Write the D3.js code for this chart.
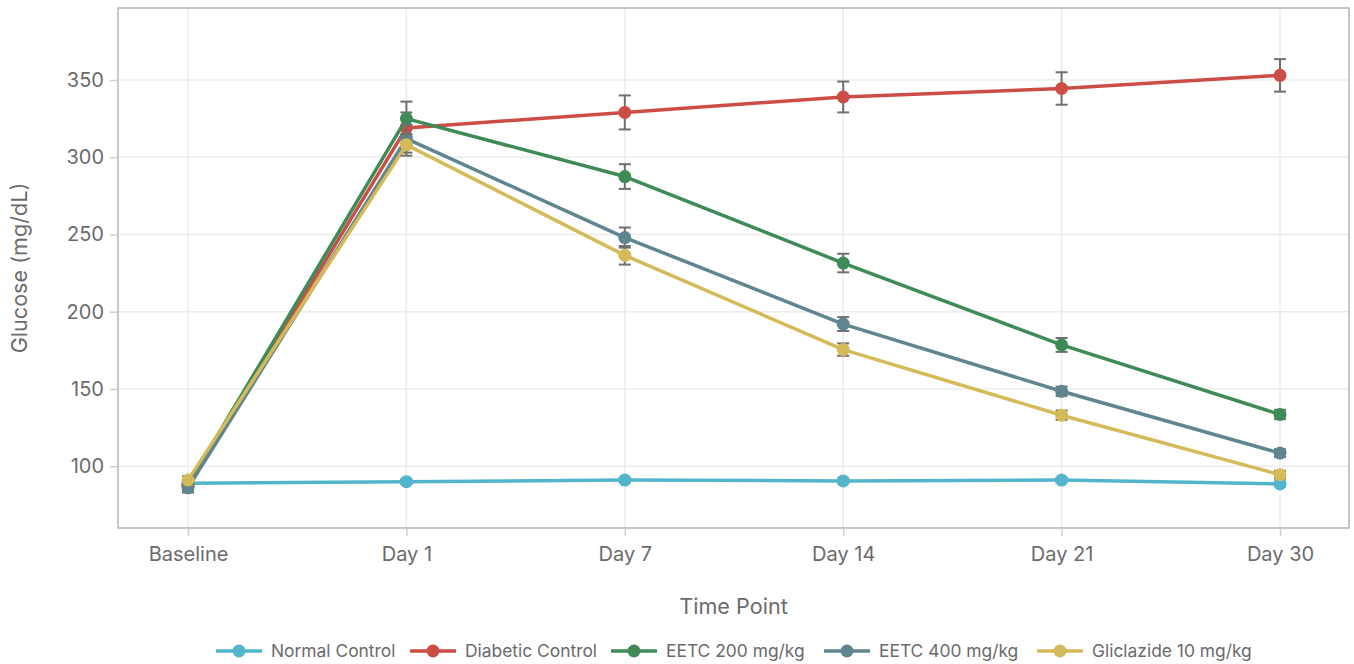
<!DOCTYPE html>
<html>
<head>
<meta charset="utf-8">
<script src="https://cdn.jsdelivr.net/npm/d3@7"></script>
<style>
  body { margin: 0; background: #fff; }
  svg { display: block; font-family: "Inter", "Liberation Sans", sans-serif; }
</style>
</head>
<body>
<svg id="chart" width="1354" height="664"></svg>
<script>
const categories = ["Baseline", "Day 1", "Day 7", "Day 14", "Day 21", "Day 30"];
const seriesNames = ["Normal Control", "Diabetic Control", "EETC 200 mg/kg", "EETC 400 mg/kg", "Gliclazide 10 mg/kg"];
const seriesColors = ["#52b5cb", "#cc4d45", "#3f8b58", "#5f8690", "#d4ba58"];
const normalValues = [89, 90, 91, 90.5, 91, 88.5];
const normalErrors = [1.5, 1.5, 1.5, 1.5, 1.5, 1.5];
const diabeticValues = [87, 319, 329, 339, 344.5, 353];
const diabeticErrors = [3, 10, 11, 10, 10.5, 10.5];
const eetc200Values = [88, 325, 287.5, 231.5, 178.5, 133.5];
const eetc200Errors = [3, 11, 8, 6, 4.5, 3];
const eetc400Values = [86, 312, 248, 192, 148.5, 108.5];
const eetc400Errors = [3, 9, 6.5, 4.5, 3, 2.5];
const gliclazideValues = [91, 308, 236.5, 175.5, 133, 94.5];
const gliclazideErrors = [2.5, 7, 6, 4, 3, 2.5];
const yTicks = [100, 150, 200, 250, 300, 350];

const allValues = [normalValues, diabeticValues, eetc200Values, eetc400Values, gliclazideValues];
const allErrors = [normalErrors, diabeticErrors, eetc200Errors, eetc400Errors, gliclazideErrors];
const series = seriesNames.map((name, i) => ({
  name, color: seriesColors[i],
  points: categories.map((c, j) => ({ c, v: allValues[i][j], e: allErrors[i][j] }))
}));

const svg = d3.select("#chart");
const m = { left: 118, right: 1349, top: 8, bottom: 528 };
const txt = "#6b6b6b";

const x = d3.scalePoint().domain(categories).range([188, 1280]);
const y = d3.scaleLinear().domain([60, 396.6]).range([m.bottom, m.top]);

// gridlines
const grid = svg.append("g");
grid.selectAll("line.h").data(yTicks).join("line")
  .attr("x1", m.left).attr("x2", m.right)
  .attr("y1", d => y(d)).attr("y2", d => y(d))
  .attr("stroke", "#ececec").attr("stroke-width", 1.5);
grid.selectAll("line.v").data(categories).join("line")
  .attr("y1", m.top).attr("y2", m.bottom)
  .attr("x1", d => x(d)).attr("x2", d => x(d))
  .attr("stroke", "#ececec").attr("stroke-width", 1.5);

// border
svg.append("rect").attr("x", m.left).attr("y", m.top)
  .attr("width", m.right - m.left).attr("height", m.bottom - m.top)
  .attr("fill", "none").attr("stroke", "#b5b5b5").attr("stroke-width", 1.5);

// axes
const xAxis = svg.append("g").attr("transform", `translate(0,${m.bottom})`)
  .call(d3.axisBottom(x).tickSize(8).tickPadding(11));
const yAxis = svg.append("g").attr("transform", `translate(${m.left},0)`)
  .call(d3.axisLeft(y).tickValues(yTicks).tickSize(8).tickPadding(6));
[xAxis, yAxis].forEach(a => {
  a.select(".domain").remove();
  a.selectAll(".tick line").attr("stroke", "#cfcfcf").attr("stroke-width", 1.5);
  a.selectAll(".tick text").attr("fill", txt).style("font-size", "20px")
    .style("font-family", '"Inter", "Liberation Sans", sans-serif');
});

// axis titles
svg.append("text").attr("x", (m.left + m.right) / 2).attr("y", 614)
  .attr("text-anchor", "middle").attr("fill", txt).style("font-size", "21.6px").text("Time Point");
svg.append("text").attr("transform", `translate(27,${(m.top + m.bottom) / 2}) rotate(-90)`)
  .attr("text-anchor", "middle").attr("fill", txt).style("font-size", "21.6px").text("Glucose (mg/dL)");

// series
const line = d3.line().x(d => x(d.c)).y(d => y(d.v));
series.forEach(s => {
  const g = svg.append("g");
  g.append("path").datum(s.points).attr("d", line)
    .attr("fill", "none").attr("stroke", s.color).attr("stroke-width", 3.5)
    .attr("stroke-linejoin", "round");
  const eb = g.append("g").attr("stroke", "#6f6f6f").attr("stroke-width", 2);
  s.points.forEach(p => {
    const cx = x(p.c), y1 = y(p.v + p.e), y2 = y(p.v - p.e);
    eb.append("line").attr("x1", cx).attr("x2", cx).attr("y1", y1).attr("y2", y2);
    eb.append("line").attr("x1", cx - 6).attr("x2", cx + 6).attr("y1", y1).attr("y2", y1);
    eb.append("line").attr("x1", cx - 6).attr("x2", cx + 6).attr("y1", y2).attr("y2", y2);
  });
  g.selectAll("circle").data(s.points).join("circle")
    .attr("cx", d => x(d.c)).attr("cy", d => y(d.v)).attr("r", 6.5)
    .attr("fill", s.color);
});

// legend
const legendX = [216, 410, 611, 824, 1037];
const lg = svg.append("g");
series.forEach((s, i) => {
  const g = lg.append("g").attr("transform", `translate(${legendX[i]},651)`);
  g.append("line").attr("x1", 0).attr("x2", 46).attr("stroke", s.color).attr("stroke-width", 3.5);
  g.append("circle").attr("cx", 23).attr("r", 6.5).attr("fill", s.color);
  g.append("text").attr("x", 55).attr("dy", "0.35em").attr("fill", txt)
    .style("font-size", "17.4px").text(s.name);
});
</script>
</body>
</html>
